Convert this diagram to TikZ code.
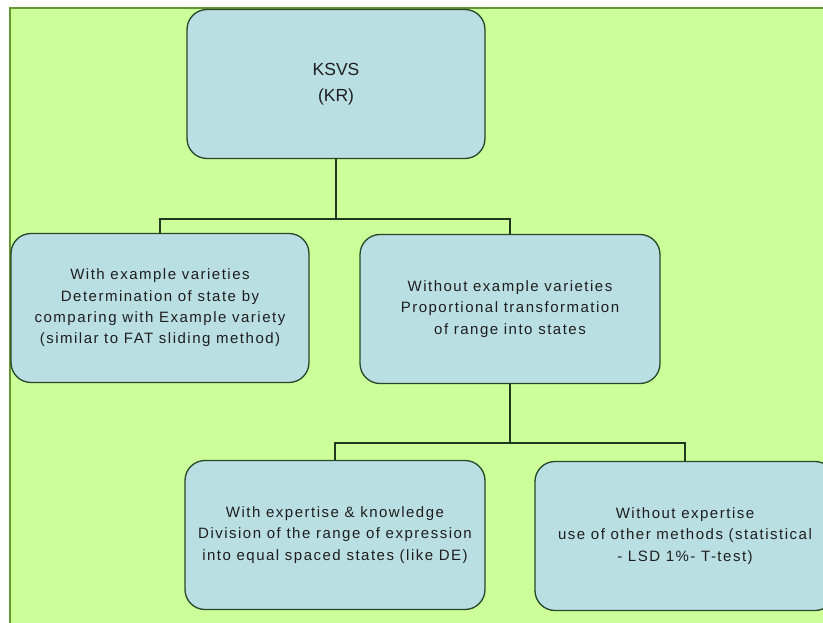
\documentclass[tikz,border=0pt]{standalone}
\usepackage{fontspec}
\setmainfont{Liberation Sans}
\newfontfamily\spacedfont[LetterSpace=10]{Liberation Sans}
\definecolor{bggreen}{RGB}{204,255,153}
\definecolor{boxblue}{RGB}{186,223,226}
\definecolor{edgegreen}{RGB}{40,70,40}
\definecolor{framegreen}{RGB}{100,150,50}
\definecolor{txt}{RGB}{30,30,30}
\begin{document}
\begin{tikzpicture}[x=1pt,y=-1pt,
  boxnode/.style={draw=edgegreen,line width=1.3pt,fill=boxblue,rounded corners=20pt,
    minimum width=298pt,minimum height=149pt,align=center,text=txt,inner sep=0pt,
    font=\spacedfont\fontsize{15}{21.3}\selectfont},
  conn/.style={draw=edgegreen!80!black,line width=1.3pt}]
\useasboundingbox (0,0) rectangle (823,623);
\clip (0,0) rectangle (823,623);
\fill[white] (0,0) rectangle (823,623);
\fill[bggreen] (10,8) rectangle (830,630);
\draw[framegreen,line width=1.5pt] (10,630) -- (10,8) -- (830,8);
\node[boxnode,font=\rmfamily\fontsize{17.5}{26}\selectfont] (root) at (336,84) {KSVS\\(KR)};
\node[boxnode] (left) at (160,308) {With example varieties\\Determination of state by\\comparing with Example variety\\(similar to FAT sliding method)};
\node[boxnode,minimum width=300pt] (mid) at (510,309) {Without example varieties\\Proportional transformation\\of range into states};
\node[boxnode,minimum width=300pt] (bl) at (335,535) {With expertise \& knowledge\\Division of the range of expression\\into equal spaced states (like DE)};
\node[boxnode,minimum width=300pt] (br) at (685,536) {Without expertise\\use of other methods (statistical\\- LSD 1\%- T-test)};
\coordinate (j1) at (336,219);
\coordinate (j2) at (510,443);
\draw[conn] (root.south) -- (j1);
\draw[conn] (left.north) |- (j1) -| (mid.north);
\draw[conn] (mid.south) -- (j2);
\draw[conn] (bl.north) |- (j2) -| (br.north);
\end{tikzpicture}
\end{document}
